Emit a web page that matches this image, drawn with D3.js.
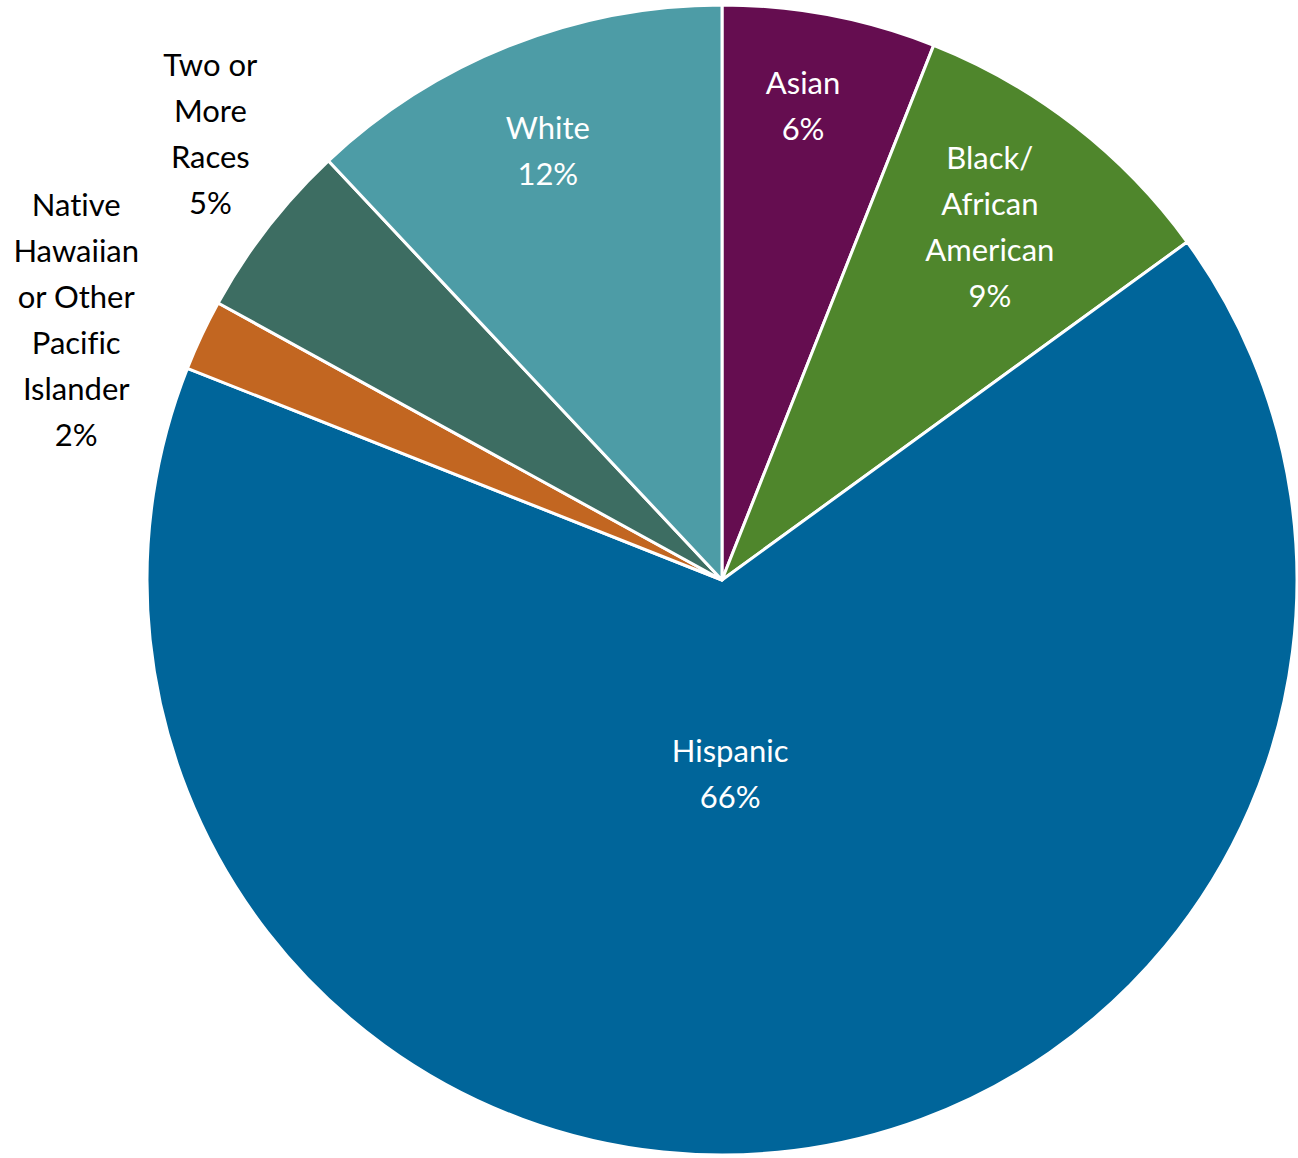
<!DOCTYPE html>
<html>
<head>
<meta charset="utf-8">
<script src="https://cdn.jsdelivr.net/npm/d3@7"></script>
<style>
  html, body { margin: 0; padding: 0; background: #fff; }
  svg { display: block; }
  text.lbl { font-variant-ligatures: none; }
</style>
</head>
<body>
<div id="chart"></div>
<script>
// Slices clockwise from 12 o'clock
const categories = ['Asian', 'Black/ African American', 'Hispanic',
  'Native Hawaiian or Other Pacific Islander', 'Two or More Races', 'White'];
const labelLines = [
  ['Asian'],
  ['Black/', 'African', 'American'],
  ['Hispanic'],
  ['Native', 'Hawaiian', 'or Other', 'Pacific', 'Islander'],
  ['Two or', 'More', 'Races'],
  ['White']
];
const values = [6, 9, 66, 2, 5, 12];
const colors = ['#650D50', '#4F862C', '#00659A', '#C26621', '#3D6D62', '#4D9CA6'];

// label placement: radius from centre and angle shift from slice middle (deg)
const LABEL_LAYOUT = [
  { r: 481, da: -1.1, inside: true },
  { r: 443, da: -0.6, inside: true },
  { r: 194, da: 4.8, inside: true },
  { r: 696, da: -3.3, inside: false },
  { r: 679, da: 3.3, inside: false },
  { r: 463, da: -0.5, inside: true }
];

const W = 1298, H = 1158;
const CX = 722, CY = 580, R = 575;
const LINE_H = 46;

const svg = d3.select('#chart').append('svg')
  .attr('width', W).attr('height', H);

const g = svg.append('g').attr('transform', `translate(${CX},${CY})`);

const pie = d3.pie().sort(null).value(d => d);
const arcs = pie(values);
const arc = d3.arc().innerRadius(0).outerRadius(R);

g.selectAll('path.slice')
  .data(arcs)
  .enter()
  .append('path')
  .attr('class', 'slice')
  .attr('d', arc)
  .attr('fill', (d, i) => colors[i])
  .attr('stroke', '#fff')
  .attr('stroke-width', 3)
  .attr('stroke-linejoin', 'round');

g.selectAll('text.lbl')
  .data(arcs)
  .enter()
  .append('text')
  .attr('class', 'lbl')
  .attr('text-anchor', 'middle')
  .attr('font-family', 'Lato, "Open Sans", sans-serif')
  .attr('font-size', '31px')
  .attr('fill', (d, i) => LABEL_LAYOUT[i].inside ? '#fff' : '#000')
  .each(function (d, i) {
    const lay = LABEL_LAYOUT[i];
    const a = (d.startAngle + d.endAngle) / 2 + lay.da * Math.PI / 180;
    const x = Math.sin(a) * lay.r;
    const y = -Math.cos(a) * lay.r;
    const lines = labelLines[i].concat([d3.format('.0f')(d.value) + '%']);
    const top = y - (lines.length - 1) * LINE_H / 2;
    const t = d3.select(this);
    lines.forEach((s, k) => {
      t.append('tspan')
        .attr('x', x)
        .attr('y', top + k * LINE_H)
        .attr('dy', '0.35em')
        .text(s);
    });
  });
</script>
</body>
</html>
